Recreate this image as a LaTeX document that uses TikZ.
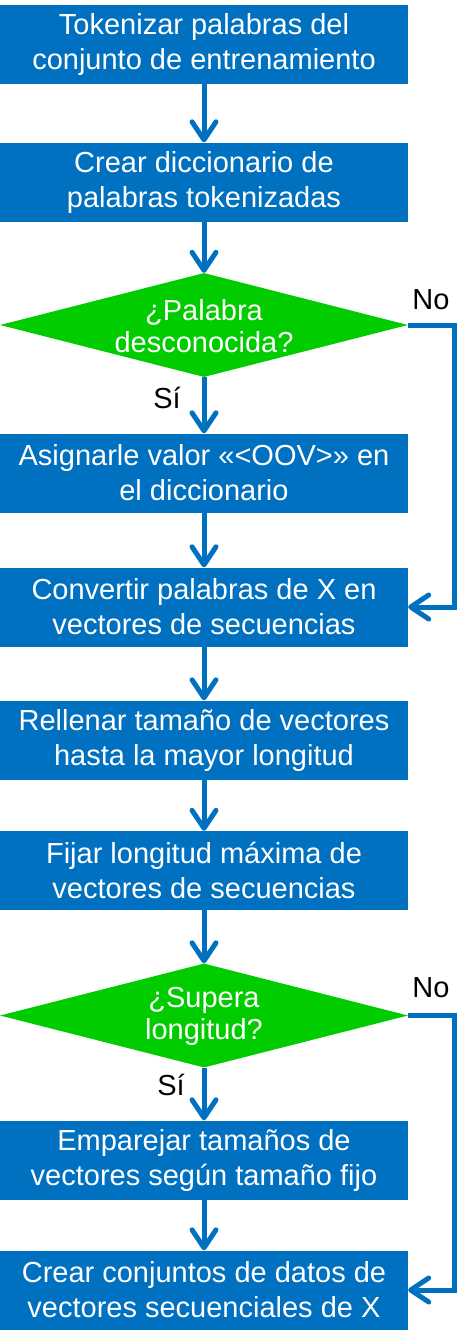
\documentclass[tikz,border=0pt]{standalone}
\usepackage{fontspec}
\setmainfont{Liberation Sans}
\usetikzlibrary{arrows.meta,shapes.geometric}
\definecolor{boxblue}{HTML}{0070C0}
\definecolor{dgreen}{HTML}{00CC00}
\begin{document}
\begin{tikzpicture}[x=1pt,y=-1pt,
  stepbox/.style={fill=boxblue, draw=none, minimum width=408pt, minimum height=79pt, inner sep=0pt, text=white, align=center, font=\fontsize{29}{35}\selectfont},
  dia/.style={shape=diamond, fill=dgreen, draw=none, minimum width=408pt, minimum height=104pt, inner sep=0pt},
  diatext/.style={text=white, align=center, font=\fontsize{29}{32}\selectfont, inner sep=0pt},
  lbl/.style={text=black, font=\fontsize{29}{32}\selectfont, inner sep=0pt},
  conn/.style={draw=boxblue, line width=5pt, line join=miter, -{Straight Barb[length=18pt,width=24pt,round]}}
]
\useasboundingbox (0,0) rectangle (468,1342);

\node[stepbox] (b1) at (204,44) {Tokenizar palabras del\\conjunto de entrenamiento};
\node[stepbox] (b2) at (204,182) {Crear diccionario de\\palabras tokenizadas};
\node[dia] (d1) at (204,325) {};
\node[diatext] (t1) at (204,326) {¿Palabra\\desconocida?};
\node[stepbox] (b3) at (204,473) {Asignarle valor «<OOV>» en\\el diccionario};
\node[stepbox] (b4) at (204,607) {Convertir palabras de X en\\vectores de secuencias};
\node[stepbox] (b5) at (204,740) {Rellenar tamaño de vectores\\hasta la mayor longitud};
\node[stepbox] (b6) at (204,870.5) {Fijar longitud máxima de\\vectores de secuencias};
\node[dia] (d2) at (204,1015.5) {};
\node[diatext] (t2) at (204,1016) {¿Supera\\longitud?};
\node[stepbox] (b7) at (204,1160) {Emparejar tamaños de\\vectores según tamaño fijo};
\node[stepbox] (b8) at (204,1290) {Crear conjuntos de datos de\\vectores secuenciales de X};

\node[lbl] (no1) at (431,300) {No};
\node[lbl] (si1) at (167,398) {Sí};
\node[lbl] (no2) at (431,988) {No};
\node[lbl] (si2) at (171,1085) {Sí};

\coordinate (c1) at (454,325);
\coordinate (c2) at (454,1015.5);

\draw[conn] (b1) -- (b2);
\draw[conn] (b2) -- (d1);
\draw[conn] (d1) -- (b3);
\draw[conn] (b3) -- (b4);
\draw[conn] (b4) -- (b5);
\draw[conn] (b5) -- (b6);
\draw[conn] (b6) -- (d2);
\draw[conn] (d2) -- (b7);
\draw[conn] (b7) -- (b8);
\draw[conn] (d1.east) -- (c1) |- (b4.east);
\draw[conn] (d2.east) -- (c2) |- (b8.east);
\end{tikzpicture}
\end{document}
